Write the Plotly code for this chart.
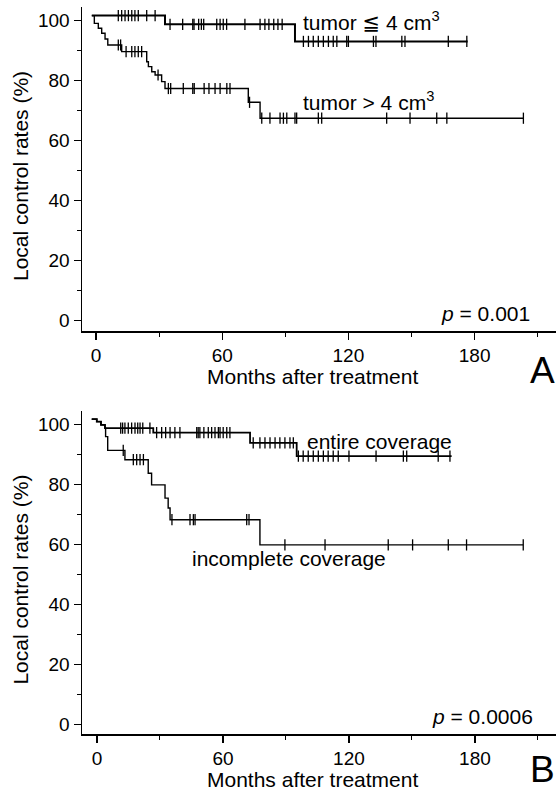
import plotly.graph_objects as go

W, H = 556, 790
FONT = "Liberation Sans, Arial, DejaVu Sans"

# ---------------- Panel A data ----------------
a_small_t = [-2.0, 32.8, 94.6]
a_small_s = [101.7, 98.8, 93.1]
a_small_end = 176.7
a_small_cens = [10.6, 12.2, 13.8, 15.4, 17.0, 18.5, 20.1, 24.1, 28.1,
                35.2, 41.2, 46.0, 46.6, 48.8, 50.1, 51.2, 57.4, 59.0, 60.5, 62.1,
                70.8, 78.0, 80.3, 82.2, 84.5, 86.5, 88.5,
                98.6, 101.0, 103.3, 105.7, 108.1, 110.5, 112.8, 114.5, 119.2, 120.0,
                131.9, 133.1, 145.4, 146.9, 167.5, 176.3]

a_large_t = [-2.0, -0.8, 1.1, 2.7, 4.3, 5.6, 12.2, 24.1, 24.9, 26.5, 28.1, 31.2, 32.8, 72.4, 78.0]
a_large_s = [101.7, 99.1, 97.5, 95.8, 93.9, 91.9, 89.7, 86.3, 84.7, 83.0, 81.9, 79.7, 77.4, 72.8, 67.5]
a_large_end = 203.2
a_large_cens = [10.6, 11.7, 14.3, 17.0, 18.5, 20.1, 21.7, 29.5,
                34.4, 35.5, 41.5, 46.0, 46.7, 51.4, 53.7, 56.6, 59.0, 62.2, 63.7,
                73.0, 78.8, 82.7, 87.5, 89.1, 90.7, 94.6, 95.4, 105.7, 107.3,
                138.2, 149.3, 162.0, 166.8, 203.2]

# ---------------- Panel B data ----------------
b_entire_t = [-2.5, -0.1, 1.9, 3.8, 26.8, 72.9, 95.1]
b_entire_s = [101.7, 100.9, 99.8, 98.7, 97.2, 93.8, 89.4]
b_entire_end = 168.9
b_entire_cens = [11.3, 12.2, 13.3, 14.9, 16.5, 18.1, 19.4, 20.5, 21.8, 25.2,
                 28.4, 30.8, 32.7, 34.8, 37.1, 39.5, 47.5, 48.2, 49.0, 50.9, 53.0,
                 54.6, 56.2, 57.8, 58.6, 60.1, 61.8, 63.3,
                 74.4, 77.6, 80.0, 82.4, 84.8, 87.1, 89.5, 91.9, 93.5,
                 95.9, 98.2, 100.6, 103.0, 105.4, 107.8, 110.1, 112.5, 114.9, 120.0,
                 132.9, 145.9, 147.5, 162.5, 168.1]

b_incomp_t = [-2.5, -0.1, 1.9, 3.8, 4.1, 5.1, 13.3, 24.4, 26.0, 32.4, 33.9, 34.8, 77.6]
b_incomp_s = [101.7, 100.9, 99.8, 98.7, 95.9, 91.3, 88.2, 83.7, 79.8, 75.4, 72.1, 68.2, 59.8]
b_incomp_end = 203.0
b_incomp_cens = [12.5, 17.3, 18.9, 20.5, 22.1, 35.7, 44.3, 45.9, 46.7, 71.3, 72.4,
                 89.5, 108.6, 138.7, 150.3, 167.3, 176.0, 203.0]

x_ticks = [0, 60, 120, 180]
y_ticks = [0, 20, 40, 60, 80, 100]


def step_at(times, surv, c):
    val = surv[0]
    for t, s in zip(times, surv):
        if t <= c:
            val = s
    return val


fig = go.Figure()


def add_curve(times, surv, end, cens, xa, ya, width):
    fig.add_trace(go.Scatter(
        x=times + [end], y=surv + [surv[-1]], mode="lines",
        line=dict(shape="hv", color="black", width=width),
        xaxis=xa, yaxis=ya, showlegend=False, hoverinfo="skip"))
    fig.add_trace(go.Scatter(
        x=cens, y=[step_at(times, surv, c) for c in cens], mode="markers",
        marker=dict(symbol="line-ns", size=8, color="black",
                    line=dict(width=1.3, color="black")),
        xaxis=xa, yaxis=ya, showlegend=False, hoverinfo="skip"))


add_curve(a_small_t, a_small_s, a_small_end, a_small_cens, "x", "y", 2.0)
add_curve(a_large_t, a_large_s, a_large_end, a_large_cens, "x", "y", 1.4)
add_curve(b_entire_t, b_entire_s, b_entire_end, b_entire_cens, "x2", "y2", 1.8)
add_curve(b_incomp_t, b_incomp_s, b_incomp_end, b_incomp_cens, "x2", "y2", 1.4)


def px(x):
    return x / W


def py(y):
    return 1 - y / H


xaxis_common = dict(
    tickvals=x_ticks, ticks="outside", ticklen=7, tickwidth=1.2, tickcolor="black",
    showline=True, linecolor="black", linewidth=1.5, showgrid=False, zeroline=False,
    tickfont=dict(family=FONT, size=19, color="black"),
    minor=dict(dtick=30, tick0=0, ticks="outside", ticklen=4, tickwidth=1, tickcolor="black"),
    fixedrange=True,
)
yaxis_common = dict(
    tickvals=y_ticks, ticks="outside", ticklen=7, tickwidth=1.2, tickcolor="black",
    showline=True, linecolor="black", linewidth=1.5, showgrid=False, zeroline=False,
    tickfont=dict(family=FONT, size=19, color="black"),
    minor=dict(dtick=10, tick0=0, ticks="outside", ticklen=4, tickwidth=1, tickcolor="black"),
    fixedrange=True,
)

fig.update_layout(
    width=W, height=H, margin=dict(l=0, r=0, t=0, b=0),
    paper_bgcolor="white", plot_bgcolor="white", showlegend=False,
    xaxis=dict(domain=[px(82), 1], range=[-6.66, 218.7], anchor="y", **xaxis_common),
    yaxis=dict(domain=[py(331), py(7)], range=[-3.43, 104.57], anchor="x", **yaxis_common),
    xaxis2=dict(domain=[px(82), 1], range=[-7.14, 218.6], anchor="y2", **xaxis_common),
    yaxis2=dict(domain=[py(734), py(410.7)], range=[-3.23, 104.53], anchor="x2", **yaxis_common),
)


def note(text, x, y, size=21, xanchor="left", yanchor="middle", angle=0):
    fig.add_annotation(text=text, x=px(x), y=py(y), xref="paper", yref="paper",
                       xanchor=xanchor, yanchor=yanchor, showarrow=False, textangle=angle,
                       borderpad=0, font=dict(family=FONT, size=size, color="black"))


# Panel A texts
note("tumor \u2266 4 cm<sup>3</sup>", 302, 20.5)
note("tumor &gt; 4 cm<sup>3</sup>", 302, 100.5)
note("<i>p</i> = 0.001", 531, 313, xanchor="right")
note("Months after treatment", 312.5, 376, xanchor="center")
note("Local control rates (%)", 21, 176, xanchor="center", angle=-90)
note("A", 556, 370, size=37, xanchor="right")

# Panel B texts
note("entire coverage", 306, 441)
note("incomplete coverage", 191, 558)
note("<i>p</i> = 0.0006", 534, 716, xanchor="right")
note("Months after treatment", 312.5, 779, xanchor="center")
note("Local control rates (%)", 21, 579.6, xanchor="center", angle=-90)
note("B", 556, 769, size=37, xanchor="right")

fig.write_html(
    "out.html",
    config={"displayModeBar": False, "staticPlot": True},
    post_script="document.body.style.margin='0px';document.body.style.overflow='hidden';",
)
